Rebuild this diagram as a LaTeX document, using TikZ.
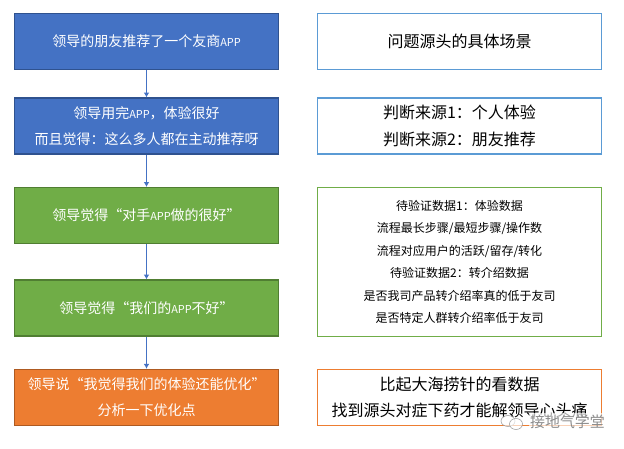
\documentclass[tikz,border=0pt]{standalone}
\usepackage{fontspec}
\setmainfont{Noto Sans CJK SC}
\usetikzlibrary{arrows.meta}
\newcommand{\appname}{{\fontsize{8.2}{19.5}\selectfont APP}}
\newcommand{\fwcomma}{\char"FF0C\relax}
\newcommand{\fwcolon}{\char"FF1A\relax}

\begin{document}
\begin{tikzpicture}[x=0.75pt,y=-0.75pt]
	\tikzstyle{box}=[rectangle,draw,line width=0.8pt,inner sep=0pt,align=center,minimum height=42pt]
	\tikzstyle{step box}=[box,minimum width=198pt,text=white,font=\fontsize{10.5}{19.5}\selectfont]
	\tikzstyle{blue box}=[step box,fill=stepblue,draw=stepblueline]
	\tikzstyle{green box}=[step box,fill=stepgreen,draw=stepgreenline]
	\tikzstyle{orange box}=[step box,fill=steporange,draw=steporangeline]
	\tikzstyle{note box}=[box,minimum width=213pt,fill=white,text=black,font=\fontsize{12}{20}\selectfont]
	\tikzstyle{edge}=[-{Latex[length=3.6pt,width=4.2pt]},stepblue,line width=0.8pt]
	\definecolor{stepblue}{HTML}{4472C4}
	\definecolor{stepblueline}{HTML}{2F528F}
	\definecolor{stepgreen}{HTML}{70AD47}
	\definecolor{stepgreenline}{HTML}{507E32}
	\definecolor{steporange}{HTML}{ED7D31}
	\definecolor{steporangeline}{HTML}{AE5A21}
	\definecolor{noteblue}{HTML}{5B9BD5}

	\useasboundingbox (0,0) rectangle (624,449);

	\node[blue box] (s1) at (146.5,41.5) {领导的朋友推荐了一个友商\appname};
	\node[blue box] (s2) at (146.5,126) {领导用完\appname\fwcomma 体验很好\\而且觉得\fwcolon 这么多人都在主动推荐呀};
	\node[green box] (s3) at (146.5,215.5) {领导觉得“对手\appname 做的很好”};
	\node[green box] (s4) at (146.5,308) {领导觉得“我们的\appname 不好”};
	\node[orange box] (s5) at (146.5,397.3) {领导说“我觉得我们的体验还能优化”\\分析一下优化点};

	\draw[edge] (s1) -- (s2);
	\draw[edge] (s2) -- (s3);
	\draw[edge] (s3) -- (s4);
	\draw[edge] (s4) -- (s5);

	\node[note box,draw=noteblue] (n1) at (459.5,41.5) {问题源头的具体场景};
	\node[note box,draw=noteblue] (n2) at (459.5,126) {判断来源1\fwcolon 个人体验\\判断来源2\fwcolon 朋友推荐};
	\node[note box,draw=stepgreen,minimum height=111.6pt,font=\fontsize{9}{16.8}\selectfont] (n3) at (459.5,262) {待验证数据1\fwcolon 体验数据\\流程最长步骤/最短步骤/操作数\\流程对应用户的活跃/留存/转化\\待验证数据2\fwcolon 转介绍数据\\是否我司产品转介绍率真的低于友司\\是否特定人群转介绍率低于友司};
	\node[note box,draw=steporange] (n4) at (459.5,397.3) {比起大海捞针的看数据\\找到源头对症下药才能解领导心头痛};

	% watermark
	\node[text=black!45,font=\fontsize{11.2}{12}\selectfont,inner sep=1pt,fill=white,fill opacity=0.65,text opacity=1] (mark) at (567.5,421.5) {接地气学堂};
	\draw[black!40,fill=white,fill opacity=0.65] (508,421) ellipse (7 and 5.5);
	\draw[black!40,fill=white,fill opacity=0.65] (516,424) ellipse (6.5 and 5.5);
\end{tikzpicture}
\end{document}
